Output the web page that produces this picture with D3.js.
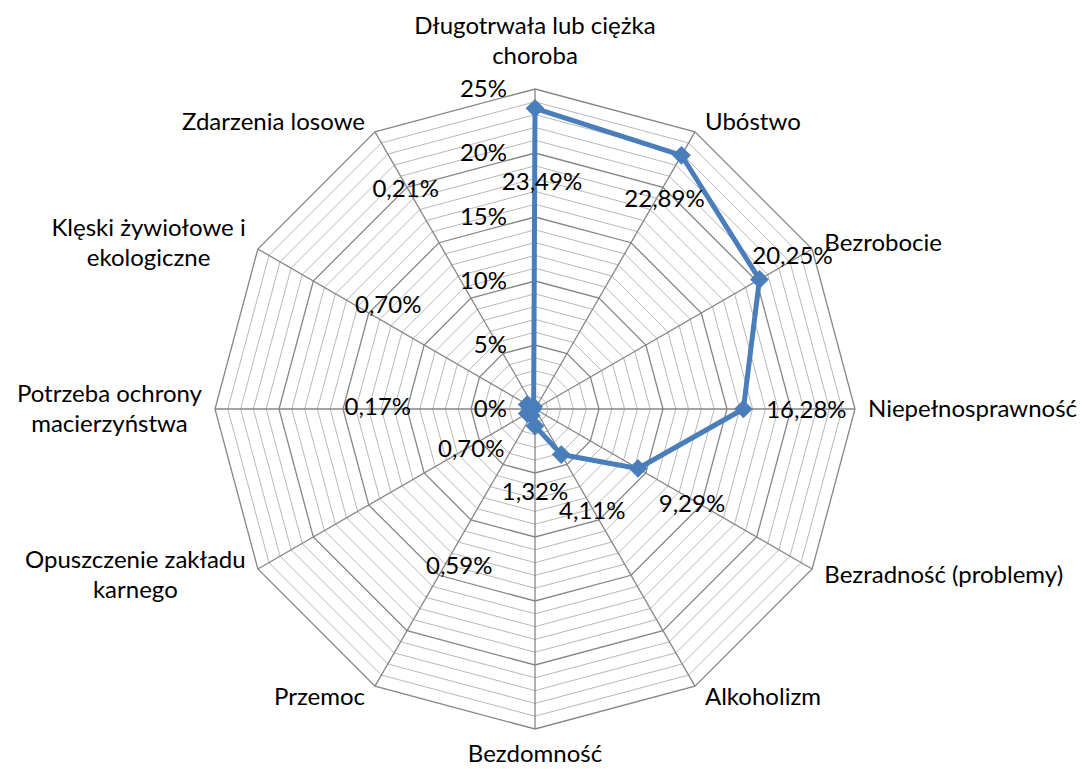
<!DOCTYPE html>
<html>
<head>
<meta charset="utf-8">
<script src="https://cdn.jsdelivr.net/npm/d3@7"></script>
<style>
  body { margin: 0; background: #fff; }
  text { font-family: Lato, "Open Sans", sans-serif; font-size: 24px; fill: #000; }
</style>
</head>
<body>
<div id="radar"></div>
<script>
// Data (clockwise from the top)
const categories = [
  "Długotrwała lub ciężka\nchoroba",
  "Ubóstwo",
  "Bezrobocie",
  "Niepełnosprawność",
  "Bezradność (problemy)",
  "Alkoholizm",
  "Bezdomność",
  "Przemoc",
  "Opuszczenie zakładu\nkarnego",
  "Potrzeba ochrony\nmacierzyństwa",
  "Klęski żywiołowe i\nekologiczne",
  "Zdarzenia losowe"
];
const values = [23.49, 22.89, 20.25, 16.28, 9.29, 4.11, 1.32, 0.59, 0.70, 0.17, 0.70, 0.21];
const valueLabels = ["23,49%", "22,89%", "20,25%", "16,28%", "9,29%", "4,11%",
                     "1,32%", "0,59%", "0,70%", "0,17%", "0,70%", "0,21%"];
const ticks = [0, 5, 10, 15, 20, 25];
const tickLabels = ["0%", "5%", "10%", "15%", "20%", "25%"];

// Where each data label sits relative to its marker (px)
const labelOffsets = [[7, 73], [-17, 43], [33, -24], [63, 1], [54, 35], [31, 56],
                      [0, 66], [-72, 150], [-56, 35], [-155, -2], [-139, -100], [-128, -218]];

const width = 1083;
const height = 769;
const cx = 535, cy = 409, R = 320;
const n = categories.length;

const svg = d3.select("#radar")
  .append("svg")
  .attr("width", width)
  .attr("height", height);

const rScale = d3.scaleLinear().domain([0, 25]).range([0, R]);
const angle = (i) => (i * 2 * Math.PI) / n;
const pos = (i, v) => [
  cx + rScale(v) * Math.sin(angle(i)),
  cy - rScale(v) * Math.cos(angle(i))
];

// Grid rings: minor every 1%, major every 5%
const rings = d3.range(1, 26);
const ringLine = d3.line().curve(d3.curveLinearClosed);

svg.append("g")
  .selectAll("path")
  .data(rings.filter((v) => v % 5 !== 0))
  .enter()
  .append("path")
  .attr("d", (v) => ringLine(d3.range(n).map((i) => pos(i, v))))
  .attr("fill", "none")
  .attr("stroke", "#b8b8b8")
  .attr("stroke-width", 1);

svg.append("g")
  .selectAll("path")
  .data(rings.filter((v) => v % 5 === 0))
  .enter()
  .append("path")
  .attr("d", (v) => ringLine(d3.range(n).map((i) => pos(i, v))))
  .attr("fill", "none")
  .attr("stroke", "#868686")
  .attr("stroke-width", 1.3);

// Spokes
svg.append("g")
  .selectAll("line")
  .data(d3.range(n))
  .enter()
  .append("line")
  .attr("x1", cx)
  .attr("y1", cy)
  .attr("x2", (i) => pos(i, 25)[0])
  .attr("y2", (i) => pos(i, 25)[1])
  .attr("stroke", "#868686")
  .attr("stroke-width", 1.3);

// Axis tick labels
svg.append("g")
  .selectAll("text")
  .data(ticks)
  .enter()
  .append("text")
  .attr("x", cx - 28)
  .attr("y", (v) => cy - rScale(v))
  .attr("dy", "0.35em")
  .attr("text-anchor", "end")
  .text((v, i) => tickLabels[i]);

// Category labels: multi-line blocks are centred, block edge near the vertex
const catG = svg.append("g");
categories.forEach((name, i) => {
  const lines = name.split("\n");
  const s = Math.sin(angle(i)), c = Math.cos(angle(i));
  const [vx, vy] = pos(i, 25);
  let edgeX, side, centerY;
  if (Math.abs(s) < 0.01) {
    edgeX = vx;
    side = 0;
    centerY = vy - Math.sign(c) * (lines.length * 15 + (c > 0 ? 18 : 10));
  } else {
    side = Math.sign(s);
    edgeX = vx + side * (7 + 6 * Math.abs(s));
    centerY = vy - c * 12;
  }
  const t = catG.append("text").attr("text-anchor", "middle");
  const spans = lines.map((ln, k) =>
    t.append("tspan")
      .attr("y", centerY - (lines.length - 1) * 15 + k * 30)
      .attr("dy", "0.35em")
      .text(ln)
  );
  const w = d3.max(spans, (sp) => sp.node().getComputedTextLength());
  const midX = edgeX + side * w / 2;
  spans.forEach((sp) => sp.attr("x", midX));
});

// Series line
const points = values.map((v, i) => pos(i, v));
svg.append("path")
  .attr("d", ringLine(points))
  .attr("fill", "none")
  .attr("stroke", "#4a7ebb")
  .attr("stroke-width", 5)
  .attr("stroke-linejoin", "round");

// Diamond markers
svg.append("g")
  .selectAll("path")
  .data(points)
  .enter()
  .append("path")
  .attr("d", d3.symbol(d3.symbolSquare, 150))
  .attr("transform", (p) => `translate(${p[0]},${p[1]}) rotate(45)`)
  .attr("fill", "#4a7ebb")
  .attr("stroke", "#4a7ebb")
  .attr("stroke-width", 1);

// Data labels
svg.append("g")
  .selectAll("text")
  .data(points)
  .enter()
  .append("text")
  .attr("x", (p, i) => p[0] + labelOffsets[i][0])
  .attr("y", (p, i) => p[1] + labelOffsets[i][1])
  .attr("dy", "0.35em")
  .attr("text-anchor", "middle")
  .text((p, i) => valueLabels[i]);
</script>
</body>
</html>
